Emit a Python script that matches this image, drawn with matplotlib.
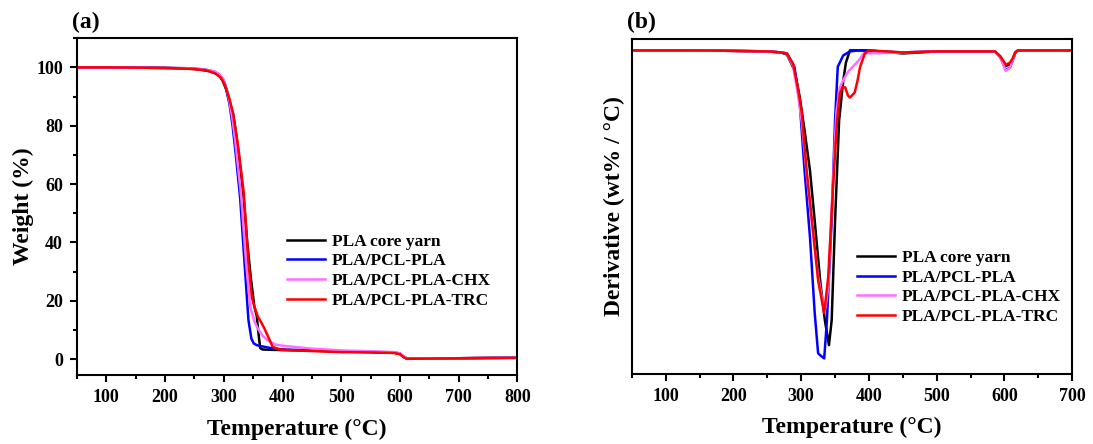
import numpy as np
import matplotlib
matplotlib.use('Agg')
import matplotlib.pyplot as plt
from matplotlib.ticker import MultipleLocator

plt.rcParams['font.family'] = 'Liberation Serif'
plt.rcParams['font.weight'] = 'bold'

labels = ['PLA core yarn', 'PLA/PCL-PLA', 'PLA/PCL-PLA-CHX', 'PLA/PCL-PLA-TRC']
colors = ['black', '#0000ff', '#ff6eff', '#ff0000']

# (a) TGA weight curves
t_core = [50, 100, 150, 200, 240, 260, 275, 285, 292, 298, 304, 310, 316, 322, 328, 334, 340, 346, 352, 356, 359, 362, 366, 380, 400, 450, 500, 550, 590, 600, 606, 612, 650, 700, 750, 800]
w_core = [100, 100, 99.9, 99.8, 99.6, 99.2, 98.7, 98.0, 97.2, 95.5, 92.5, 88, 84, 76, 66, 55, 40, 28, 18, 15, 9, 3.8, 3.3, 3.2, 3.1, 2.9, 2.6, 2.4, 2.2, 1.8, 0.8, 0.2, 0.3, 0.3, 0.4, 0.5]
t_pcl = [50, 100, 150, 200, 240, 260, 275, 285, 292, 300, 305, 310, 315, 320, 328, 336, 342, 347, 351, 356, 362, 380, 402, 450, 500, 550, 590, 600, 606, 612, 650, 700, 750, 800]
w_pcl = [100, 100, 99.9, 99.8, 99.7, 99.4, 99.0, 98.4, 97.6, 95.5, 92, 87, 80, 71, 55, 31, 13.4, 7, 5.4, 4.8, 4.5, 3.8, 3.3, 3.0, 2.7, 2.5, 2.3, 1.9, 0.9, 0.2, 0.3, 0.3, 0.4, 0.5]
t_chx = [50, 100, 150, 200, 240, 260, 275, 285, 292, 300, 305, 310, 315, 320, 330, 338, 345, 352, 358, 366, 375, 388, 400, 450, 500, 550, 590, 600, 606, 612, 650, 700, 750, 800]
w_chx = [100, 100, 99.9, 99.8, 99.7, 99.4, 99.0, 98.5, 97.7, 95.8, 92.5, 88, 82, 74, 55, 33, 18, 13, 10.5, 8, 6.5, 5, 4.6, 3.6, 3.0, 2.7, 2.4, 2.0, 1.0, 0.2, 0.3, 0.3, 0.4, 0.5]
t_trc = [50, 100, 150, 200, 230, 250, 270, 285, 295, 302, 310, 316, 325, 334, 342, 348, 353, 358, 364, 369, 376, 383, 394, 420, 500, 550, 590, 600, 606, 612, 650, 700, 750, 800]
w_trc = [100, 100, 99.9, 99.8, 99.6, 99.4, 99.0, 98.0, 96.5, 94, 89, 84, 72, 57, 33, 21, 17.5, 14.6, 12.5, 10.6, 7.5, 4.3, 3.3, 3.0, 2.4, 2.3, 2.1, 1.7, 0.7, 0.1, 0.2, 0.3, 0.4, 0.4]

# (b) DTG curves
dt_core = [50, 150, 250, 270, 279, 290, 298, 305, 313, 320, 328, 335, 341, 345, 350, 356, 362, 366, 372, 400, 450, 500, 586, 594, 602, 608, 612, 616, 620, 700]
dd_core = [0, 0, -0.01, -0.02, -0.04, -0.19, -0.46, -0.78, -1.17, -1.66, -2.24, -2.63, -2.87, -2.63, -1.66, -0.68, -0.3, -0.12, 0, 0, -0.03, -0.01, -0.01, -0.06, -0.15, -0.14, -0.09, -0.02, 0, 0]
dt_pcl = [50, 150, 250, 270, 279, 290, 298, 305, 313, 320, 325, 330, 334, 338, 345, 350, 354, 362, 372, 385, 450, 500, 586, 594, 602, 608, 612, 616, 620, 700]
dd_pcl = [0, 0, -0.01, -0.02, -0.03, -0.16, -0.52, -1.17, -1.82, -2.56, -2.95, -2.98, -3.0, -2.63, -1.66, -0.68, -0.16, -0.05, -0.01, 0, -0.02, -0.01, -0.01, -0.07, -0.19, -0.17, -0.1, -0.02, 0, 0]
dt_chx = [50, 150, 250, 270, 279, 288, 295, 301, 308, 316, 325, 331, 336, 340, 346, 352, 357, 363, 369, 376, 382, 387, 392, 450, 500, 586, 594, 602, 608, 612, 616, 620, 700]
dd_chx = [0, 0, -0.01, -0.02, -0.03, -0.15, -0.42, -0.7, -1.2, -1.7, -2.2, -2.42, -2.5, -2.3, -1.4, -0.6, -0.36, -0.28, -0.21, -0.16, -0.12, -0.08, -0.03, -0.02, -0.01, -0.01, -0.07, -0.2, -0.17, -0.1, -0.02, 0, 0]
dt_trc = [50, 150, 250, 270, 279, 288, 295, 301, 308, 316, 325, 334, 340, 347, 353, 357, 361, 365, 369, 372, 379, 383, 387, 394, 400, 450, 500, 586, 594, 602, 608, 612, 616, 620, 700]
dd_trc = [0, 0, -0.01, -0.02, -0.03, -0.13, -0.36, -0.61, -1.17, -1.66, -2.24, -2.56, -2.2, -1.33, -0.68, -0.42, -0.36, -0.36, -0.44, -0.46, -0.41, -0.3, -0.16, -0.03, 0, -0.02, -0.01, -0.01, -0.06, -0.14, -0.12, -0.08, -0.02, 0, 0]

fig = plt.figure(figsize=(10.93, 4.44), dpi=100)
ax1 = fig.add_axes([0.0704, 0.155, 0.403, 0.759])
ax2 = fig.add_axes([0.578, 0.158, 0.403, 0.754])

tga = [(t_core, w_core), (t_pcl, w_pcl), (t_chx, w_chx), (t_trc, w_trc)]
dtg = [(dt_core, dd_core), (dt_pcl, dd_pcl), (dt_chx, dd_chx), (dt_trc, dd_trc)]

for (t, w), lab, c in zip(tga, labels, colors):
    ax1.plot(t, w, color=c, lw=1.8, label=lab)
for (t, d), lab, c in zip(dtg, labels, colors):
    ax2.plot(t, d, color=c, lw=1.8, label=lab)

ax1.set_xlim(50, 800)
ax1.set_ylim(-5.5, 110)
ax1.xaxis.set_major_locator(MultipleLocator(100))
ax1.xaxis.set_minor_locator(MultipleLocator(50))
ax1.yaxis.set_major_locator(MultipleLocator(20))
ax1.yaxis.set_minor_locator(MultipleLocator(10))
ax1.set_ylabel('Weight (%)', fontsize=17, fontweight='bold', labelpad=2)

ax2.set_xlim(50, 700)
ax2.set_ylim(-3.15, 0.11)
ax2.xaxis.set_major_locator(MultipleLocator(100))
ax2.xaxis.set_minor_locator(MultipleLocator(50))
ax2.set_yticks([])
ax2.set_ylabel('Derivative (wt% / \u00b0C)', fontsize=17, fontweight='bold', labelpad=5)

for ax in (ax1, ax2):
    ax.set_xlabel('Temperature (\u00b0C)', fontsize=17, fontweight='bold', labelpad=9)
    ax.tick_params(which='major', direction='out', length=5, width=1.5, labelsize=13, pad=5)
    ax.tick_params(which='minor', direction='out', length=3, width=1.5)
    for s in ax.spines.values():
        s.set_linewidth(1.5)

leg_kw = dict(loc='upper left', frameon=False, fontsize=12.5, borderpad=0, borderaxespad=0,
              handlelength=2.2, handletextpad=0.4, labelspacing=0.2)
ax1.legend(bbox_to_anchor=(0.477, 0.42), **leg_kw)
ax2.legend(bbox_to_anchor=(0.511, 0.37), **leg_kw)

fig.text(0.066, 0.95, '(a)', fontsize=17, fontweight='bold', va='center')
fig.text(0.574, 0.95, '(b)', fontsize=17, fontweight='bold', va='center')

fig.savefig('out.png', dpi=100)
